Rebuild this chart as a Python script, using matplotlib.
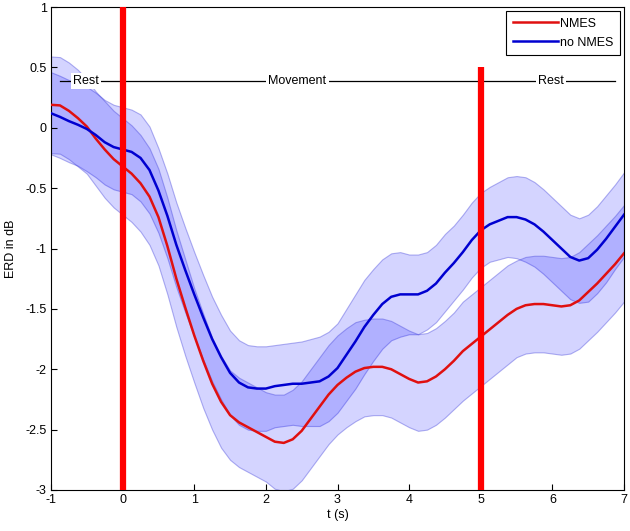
import numpy as np
import matplotlib
matplotlib.use("Agg")
import matplotlib.pyplot as plt

plt.rcParams['font.family'] = ['Liberation Sans', 'DejaVu Sans']

# time grid (s), every 0.125 s
t = np.linspace(-1, 7, 65)

# mean ERD curves (dB)
nmes = [0.19, 0.185, 0.14, 0.08, 0.01, -0.09, -0.18, -0.26, -0.32, -0.38,
        -0.46, -0.57, -0.74, -0.98, -1.25, -1.49, -1.72, -1.93, -2.12, -2.27,
        -2.38, -2.44, -2.48, -2.52, -2.56, -2.60, -2.61, -2.58, -2.51, -2.41,
        -2.31, -2.21, -2.13, -2.07, -2.02, -1.99, -1.98, -1.98, -2.00, -2.04,
        -2.08, -2.11, -2.10, -2.06, -2.00, -1.93, -1.85, -1.79, -1.73, -1.67,
        -1.61, -1.55, -1.50, -1.47, -1.46, -1.46, -1.47, -1.48, -1.47, -1.43,
        -1.36, -1.29, -1.21, -1.13, -1.04]
no_nmes = [0.12, 0.09, 0.055, 0.025, -0.01, -0.06, -0.12, -0.16, -0.18, -0.20,
           -0.25, -0.35, -0.52, -0.73, -0.97, -1.18, -1.38, -1.57, -1.75, -1.90,
           -2.03, -2.11, -2.15, -2.16, -2.16, -2.14, -2.13, -2.12, -2.12, -2.11,
           -2.10, -2.06, -1.99, -1.88, -1.77, -1.65, -1.55, -1.46, -1.40, -1.38,
           -1.38, -1.38, -1.35, -1.29, -1.20, -1.12, -1.03, -0.93, -0.85, -0.80,
           -0.77, -0.74, -0.74, -0.76, -0.80, -0.86, -0.93, -1.00, -1.07, -1.10,
           -1.08, -1.01, -0.92, -0.82, -0.72]

# spread around each mean
nmes_sd = [0.40, 0.40, 0.40, 0.40, 0.39, 0.39, 0.40, 0.40, 0.40, 0.40,
           0.40, 0.40, 0.40, 0.40, 0.40, 0.40, 0.39, 0.39, 0.38, 0.38,
           0.37, 0.37, 0.37, 0.37, 0.37, 0.39, 0.40, 0.41, 0.41, 0.41,
           0.41, 0.41, 0.41, 0.41, 0.41, 0.40, 0.40, 0.40, 0.40, 0.40,
           0.40, 0.40, 0.40, 0.40, 0.40, 0.40, 0.41, 0.41, 0.41, 0.41,
           0.41, 0.41, 0.40, 0.40, 0.40, 0.40, 0.40, 0.40, 0.40, 0.40,
           0.40, 0.40, 0.40, 0.40, 0.40]
no_nmes_sd = [0.34, 0.34, 0.34, 0.34, 0.35, 0.35, 0.35, 0.35, 0.35, 0.35,
              0.36, 0.36, 0.35, 0.35, 0.35, 0.35, 0.35, 0.35, 0.35, 0.35,
              0.35, 0.35, 0.35, 0.35, 0.35, 0.34, 0.34, 0.34, 0.35, 0.36,
              0.37, 0.37, 0.37, 0.38, 0.39, 0.39, 0.38, 0.37, 0.36, 0.35,
              0.33, 0.33, 0.32, 0.32, 0.32, 0.31, 0.31, 0.31, 0.31, 0.31,
              0.32, 0.33, 0.34, 0.35, 0.35, 0.35, 0.35, 0.35, 0.35, 0.35,
              0.36, 0.36, 0.36, 0.35, 0.35]

# events and phases
event_t = [0, 5]
event_top = [1, 0.5]
phase_names = ["Rest", "Movement", "Rest"]
phase_x = [-0.51, 2.44, 5.98]
phase_y = 0.387
phase_span = [-0.87, 6.88]

xticks = [-1, 0, 1, 2, 3, 4, 5, 6, 7]
yticks = [-3, -2.5, -2, -1.5, -1, -0.5, 0, 0.5, 1]
ytick_labels = ["-3", "-2.5", "-2", "-1.5", "-1", "-0.5", "0", "0.5", "1"]

nmes = np.array(nmes)
no_nmes = np.array(no_nmes)
nmes_sd = np.array(nmes_sd)
no_nmes_sd = np.array(no_nmes_sd)

fig = plt.figure(figsize=(6.3, 5.31), dpi=100)
ax = fig.add_axes([51 / 630, 41 / 531, 573 / 630, 483 / 531])

# shaded bands
band_face = (0, 0, 1, 0.17)
band_edge = (0.25, 0.25, 0.85, 0.4)
ax.fill_between(t, no_nmes - no_nmes_sd, no_nmes + no_nmes_sd,
                facecolor=band_face, edgecolor=band_edge, lw=0.8, zorder=1)
ax.fill_between(t, nmes - nmes_sd, nmes + nmes_sd,
                facecolor=band_face, edgecolor=band_edge, lw=0.8, zorder=1)

# phase annotation
ax.plot(phase_span, [phase_y, phase_y], color="black", lw=0.9, zorder=2)
for name, x in zip(phase_names, phase_x):
    ax.text(x, phase_y, name, ha="center", va="center", fontsize=9, zorder=3,
            bbox=dict(facecolor="white", edgecolor="none", pad=1.5))

ax.plot(t, nmes, color="#e01010", lw=1.8, label="NMES", zorder=4)
ax.plot(t, no_nmes, color="#0000d0", lw=1.8, label="no NMES", zorder=4)

# stimulus on / off markers
ax.vlines(event_t, -3, event_top, colors="#ff0000", lw=4.5, zorder=5)

ax.set_xlim(-1, 7)
ax.set_ylim(-3, 1)
ax.set_xticks(xticks)
ax.set_xticklabels([str(x) for x in xticks])
ax.set_yticks(yticks)
ax.set_yticklabels(ytick_labels)
ax.tick_params(direction="in", length=4, labelsize=9, pad=3)
ax.set_xlabel("t (s)", fontsize=9, labelpad=2)
ax.set_ylabel("ERD in dB", fontsize=9, labelpad=6)

leg = ax.legend(loc="upper right", fontsize=9, fancybox=False, framealpha=1,
                edgecolor="black", handlelength=3.6, borderaxespad=0.35,
                handletextpad=0.2, labelspacing=0.55, borderpad=0.5)
leg.get_frame().set_linewidth(0.8)

fig.savefig("out.png", dpi=100)
